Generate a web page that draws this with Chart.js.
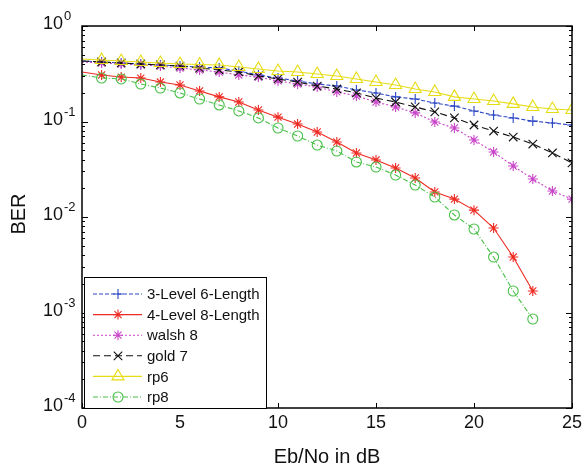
<!DOCTYPE html>
<html><head><meta charset="utf-8">
<script src="https://cdn.jsdelivr.net/npm/chart.js@4.4.1/dist/chart.umd.min.js"></script>
<style>html,body{margin:0;padding:0;background:#fff;}canvas{display:block;}</style>
</head><body>
<canvas id="c" width="587" height="467"></canvas>
<script>
// ---- data ----
const ebNo = [0,1,2,3,4,5,6,7,8,9,10,11,12,13,14,15,16,17,18,19,20,21,22,23,24,25];
const seriesNames = ['3-Level 6-Length','4-Level 8-Length','walsh 8','gold 7','rp6','rp8'];
const level3len6 = [0.430,0.420,0.410,0.400,0.391,0.381,0.372,0.363,0.338,0.307,0.285,0.266,0.247,0.235,0.214,0.199,0.181,0.172,0.156,0.145,0.129,0.117,0.109,0.101,0.0964,0.0919];
const level4len8 = [0.330,0.307,0.292,0.285,0.259,0.241,0.209,0.181,0.160,0.132,0.111,0.0941,0.0776,0.0610,0.0468,0.0395,0.0326,0.0256,0.0183,0.0154,0.0118,0.00767,0.00381,0.00168];
const walsh8 = [0.420,0.410,0.400,0.391,0.381,0.363,0.346,0.330,0.307,0.292,0.266,0.247,0.230,0.204,0.185,0.160,0.142,0.123,0.0988,0.0855,0.0640,0.0479,0.0342,0.0250,0.0187,0.0154];
const gold7 = [0.430,0.420,0.410,0.400,0.391,0.381,0.363,0.346,0.330,0.300,0.279,0.259,0.235,0.219,0.199,0.176,0.160,0.142,0.126,0.109,0.0919,0.0795,0.0688,0.0581,0.0468,0.0368];
const rp6 = [0.451,0.441,0.430,0.420,0.410,0.400,0.395,0.391,0.372,0.355,0.338,0.330,0.314,0.300,0.279,0.259,0.241,0.219,0.204,0.181,0.172,0.164,0.153,0.142,0.135,0.132];
const rp8 = [0.307,0.285,0.279,0.247,0.224,0.199,0.172,0.149,0.129,0.109,0.0855,0.0705,0.0567,0.0491,0.0377,0.0334,0.0275,0.0216,0.0162,0.0105,0.00749,0.00381,0.00168,0.000855];
const xTicks = [0,5,10,15,20,25];
const yTickExponents = [0,-1,-2,-3,-4];
const xTitle = 'Eb/No in dB';
const yTitle = 'BER';

// ---- styles ----
const FONT = '"Liberation Sans", Arial, Helvetica, sans-serif';
const styles = [
  {color:'#2c46c4', dash:[4,2],      point:'cross',    r:5},
  {color:'#ee2a22', dash:[],         point:'star',     r:5},
  {color:'#c844c8', dash:[2,2],      point:'star',     r:5},
  {color:'#111111', dash:[7,4],      point:'crossRot', r:6},
  {color:'#e6dc14', dash:[],         point:'triangle', r:7},
  {color:'#48c048', dash:[5,2,1,2],  point:'circle',   r:5}
];
const seriesValues = [level3len6, level4len8, walsh8, gold7, rp6, rp8];

const datasets = seriesValues.map((vals, i) => {
  const s = styles[i];
  return {
    label: seriesNames[i],
    data: vals.map((v, k) => ({x: ebNo[k], y: v})),
    borderColor: s.color,
    backgroundColor: 'rgba(0,0,0,0)',
    borderWidth: 1.1,
    borderDash: s.dash,
    pointStyle: s.point,
    pointRadius: ctx => ctx.dataIndex === 0 ? 0 : s.r,
    pointBorderColor: s.color,
    pointBackgroundColor: 'rgba(0,0,0,0)',
    pointBorderWidth: 1.1,
    fill: false,
    tension: 0,
    order: 5 - i
  };
});

function drawMarker(ctx, type, x, y, r) {
  ctx.beginPath();
  if (type === 'cross') {
    ctx.moveTo(x - r, y); ctx.lineTo(x + r, y); ctx.moveTo(x, y - r); ctx.lineTo(x, y + r);
  } else if (type === 'crossRot') {
    const d = r * 0.7071;
    ctx.moveTo(x - d, y - d); ctx.lineTo(x + d, y + d); ctx.moveTo(x - d, y + d); ctx.lineTo(x + d, y - d);
  } else if (type === 'star') {
    const d = r * 0.7071;
    ctx.moveTo(x - r, y); ctx.lineTo(x + r, y); ctx.moveTo(x, y - r); ctx.lineTo(x, y + r);
    ctx.moveTo(x - d, y - d); ctx.lineTo(x + d, y + d); ctx.moveTo(x - d, y + d); ctx.lineTo(x + d, y - d);
  } else if (type === 'triangle') {
    // match Chart.js triangle geometry
    const rad = -Math.PI / 2;
    const size = r * 1.5; // approximate Chart.js triangle scaling
    ctx.moveTo(x + Math.sin(0) * r, y - Math.cos(0) * r);
    ctx.lineTo(x + Math.sin(2 * Math.PI / 3) * r, y - Math.cos(2 * Math.PI / 3) * r);
    ctx.lineTo(x + Math.sin(4 * Math.PI / 3) * r, y - Math.cos(4 * Math.PI / 3) * r);
    ctx.closePath();
  } else if (type === 'circle') {
    ctx.arc(x, y, r, 0, Math.PI * 2);
  }
  ctx.stroke();
}

const axesPlugin = {
  id: 'matlabAxes',
  afterDatasetsDraw(chart) {
    const {ctx, chartArea: a, scales: {x, y}} = chart;
    ctx.save();
    ctx.strokeStyle = '#000';
    ctx.lineWidth = 1;
    ctx.setLineDash([]);
    ctx.beginPath();
    xTicks.forEach(v => {
      const px = Math.round(x.getPixelForValue(v)) + 0.5;
      ctx.moveTo(px, a.bottom); ctx.lineTo(px, a.bottom - 5);
      ctx.moveTo(px, a.top); ctx.lineTo(px, a.top + 5);
    });
    yTickExponents.forEach(e => {
      const py = Math.round(y.getPixelForValue(Math.pow(10, e))) + 0.5;
      ctx.moveTo(a.left, py); ctx.lineTo(a.left + 6, py);
      ctx.moveTo(a.right, py); ctx.lineTo(a.right - 6, py);
      if (e > -4) {
        for (let m = 2; m <= 9; m++) {
          const pm = Math.round(y.getPixelForValue(m * Math.pow(10, e - 1))) + 0.5;
          ctx.moveTo(a.left, pm); ctx.lineTo(a.left + 3, pm);
          ctx.moveTo(a.right, pm); ctx.lineTo(a.right - 3, pm);
        }
      }
    });
    ctx.stroke();
    ctx.lineWidth = 1.5;
    ctx.strokeRect(a.left, a.top, a.right - a.left, a.bottom - a.top);

    // tick labels
    ctx.fillStyle = '#111';
    ctx.font = '18px ' + FONT;
    ctx.textAlign = 'center';
    ctx.textBaseline = 'alphabetic';
    xTicks.forEach(v => {
      ctx.fillText(String(v), x.getPixelForValue(v), a.bottom + 20);
    });
    yTickExponents.forEach(e => {
      const py = y.getPixelForValue(Math.pow(10, e));
      ctx.font = '18px ' + FONT;
      ctx.textAlign = 'right';
      ctx.fillText('10', a.left - 19, py + 3);
      ctx.font = '13px ' + FONT;
      ctx.textAlign = 'left';
      ctx.fillText(String(e), a.left - 18, py - 6);
    });

    // axis titles
    ctx.font = '20px ' + FONT;
    ctx.textAlign = 'center';
    ctx.fillText(xTitle, (a.left + a.right) / 2, a.bottom + 55);
    ctx.save();
    ctx.translate(25, (a.top + a.bottom) / 2 - 3);
    ctx.rotate(-Math.PI / 2);
    ctx.fillText(yTitle, 0, 0);
    ctx.restore();

    // legend
    const lx = a.left + 2, lw = 182, lh = 131, ly = a.bottom - lh;
    ctx.fillStyle = '#fff';
    ctx.fillRect(lx, ly, lw, lh);
    ctx.lineWidth = 1;
    ctx.strokeStyle = '#000';
    ctx.strokeRect(lx + 0.5, ly + 0.5, lw, lh);
    ctx.font = '15px ' + FONT;
    ctx.textAlign = 'left';
    ctx.textBaseline = 'middle';
    seriesNames.forEach((name, i) => {
      const s = styles[i];
      const cy = ly + 17 + i * 20.6;
      ctx.strokeStyle = s.color;
      ctx.lineWidth = 1.1;
      ctx.setLineDash(s.dash);
      ctx.beginPath();
      ctx.moveTo(lx + 9, cy); ctx.lineTo(lx + 58, cy);
      ctx.stroke();
      ctx.setLineDash([]);
      drawMarker(ctx, s.point, lx + 34, cy, s.r);
      ctx.fillStyle = '#111';
      ctx.fillText(name, lx + 63, cy + 1);
    });
    ctx.restore();
  }
};

new Chart(document.getElementById('c'), {
  type: 'line',
  data: {datasets},
  options: {
    responsive: false,
    animation: false,
    devicePixelRatio: 1,
    layout: {padding: {left: 82, right: 15, top: 26, bottom: 59}},
    plugins: {legend: {display: false}, tooltip: {enabled: false}},
    scales: {
      x: {type: 'linear', min: 0, max: 25, display: false},
      y: {type: 'logarithmic', min: 1e-4, max: 1, display: false}
    }
  },
  plugins: [axesPlugin]
});
</script>
</body></html>
